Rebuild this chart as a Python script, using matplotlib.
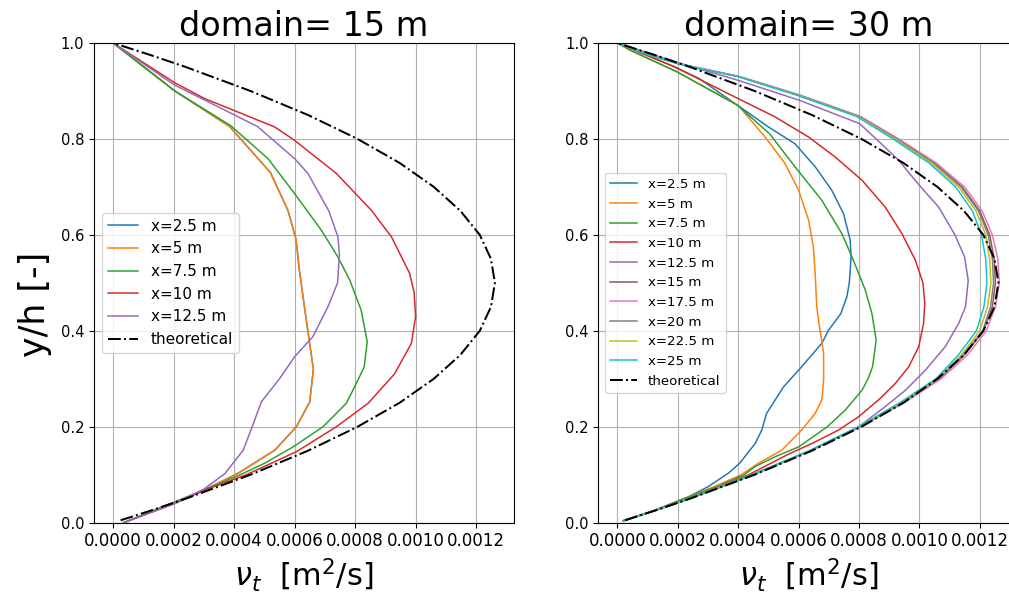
import matplotlib
matplotlib.use("Agg")
import matplotlib.pyplot as plt
import numpy as np

SCALE = 1e-4  # values below are in units of 1e-4 m^2/s

# ---------------- theoretical profile ----------------
theo_y = [0.005, 0.025, 0.05, 0.1, 0.15, 0.2, 0.25, 0.3, 0.35, 0.4, 0.45, 0.5,
          0.55, 0.6, 0.65, 0.7, 0.75, 0.8, 0.85, 0.9, 0.95, 0.975, 1.0]
theo_v = [0.25, 1.23, 2.40, 4.54, 6.44, 8.08, 9.47, 10.60, 11.48, 12.12, 12.49, 12.62,
          12.49, 12.12, 11.48, 10.60, 9.47, 8.08, 6.44, 4.54, 2.40, 1.23, 0.0]

# ---------------- domain = 15 m ----------------
L_labels = ["x=2.5 m", "x=5 m", "x=7.5 m", "x=10 m", "x=12.5 m"]

L_x2p5_y = [0.0, 0.042, 0.068, 0.103, 0.151, 0.2, 0.252, 0.32, 0.39, 0.47, 0.53, 0.59, 0.651, 0.73, 0.826, 0.9, 1.0]
L_x2p5_v = [0.35, 2.0, 3.0, 4.13, 5.34, 6.06, 6.5, 6.62, 6.46, 6.28, 6.15, 6.05, 5.78, 5.2, 3.85, 2.04, 0.0]

L_x5_y = [0.0, 0.042, 0.068, 0.103, 0.151, 0.2, 0.252, 0.32, 0.39, 0.47, 0.53, 0.59, 0.651, 0.73, 0.826, 0.9, 1.0]
L_x5_v = [0.35, 2.0, 3.0, 4.13, 5.34, 6.06, 6.5, 6.62, 6.46, 6.28, 6.15, 6.05, 5.78, 5.2, 3.85, 2.04, 0.0]

L_x7p5_y = [0.0, 0.042, 0.068, 0.1, 0.124, 0.158, 0.2, 0.249, 0.297, 0.325, 0.377, 0.443, 0.506, 0.554, 0.61, 0.686, 0.759, 0.828, 0.9, 1.0]
L_x7p5_v = [0.35, 2.0, 3.0, 4.2, 5.01, 5.95, 6.94, 7.71, 8.09, 8.3, 8.4, 8.2, 7.82, 7.43, 6.88, 6.0, 5.12, 3.88, 2.04, 0.0]

L_x10_y = [0.0, 0.04, 0.068, 0.1, 0.148, 0.2, 0.249, 0.31, 0.374, 0.43, 0.48, 0.52, 0.596, 0.651, 0.728, 0.797, 0.825, 0.856, 0.884, 0.917, 1.0]
L_x10_v = [0.35, 2.04, 3.03, 4.4, 6.06, 7.38, 8.43, 9.3, 9.86, 10.0, 9.95, 9.8, 9.2, 8.54, 7.38, 6.0, 5.34, 4.13, 3.03, 2.04, 0.0]

L_x12p5_y = [0.0, 0.04, 0.07, 0.102, 0.151, 0.214, 0.252, 0.3, 0.346, 0.3875, 0.45, 0.5, 0.56, 0.596, 0.65, 0.728, 0.759, 0.826, 0.881, 0.912, 1.0]
L_x12p5_v = [0.35, 2.04, 3.0, 3.69, 4.3, 4.68, 4.9, 5.5, 6.0, 6.6, 7.1, 7.42, 7.48, 7.43, 7.13, 6.44, 6.0, 4.77, 3.03, 2.04, 0.0]

# ---------------- domain = 30 m ----------------
R_labels = ["x=2.5 m", "x=5 m", "x=7.5 m", "x=10 m", "x=12.5 m",
            "x=15 m", "x=17.5 m", "x=20 m", "x=22.5 m", "x=25 m"]

R_x2p5_y = [0.004, 0.025, 0.054, 0.075, 0.103, 0.124, 0.165, 0.193, 0.228, 0.283, 0.325, 0.374, 0.401,
            0.436, 0.471, 0.5, 0.554, 0.589, 0.644, 0.693, 0.742, 0.79, 0.825, 0.874, 0.926, 0.95, 1.0]
R_x2p5_v = [0.19, 1.2, 2.35, 3.0, 3.67, 4.05, 4.56, 4.78, 4.94, 5.5, 6.1, 6.77, 6.99,
            7.4, 7.6, 7.68, 7.74, 7.71, 7.49, 7.1, 6.55, 5.88, 5.0, 3.89, 2.7, 1.9, 0.0]

R_x5_y = [0.004, 0.025, 0.054, 0.075, 0.1, 0.124, 0.151, 0.193, 0.228, 0.256, 0.297, 0.353, 0.401, 0.45,
          0.519, 0.575, 0.631, 0.693, 0.749, 0.804, 0.87, 0.94, 0.985, 1.0]
R_x5_v = [0.19, 1.2, 2.35, 3.2, 4.1, 4.67, 5.44, 6.1, 6.55, 6.77, 6.83, 6.83, 6.71, 6.6,
          6.55, 6.49, 6.33, 6.0, 5.55, 4.89, 4.0, 1.97, 0.42, 0.0]

R_x7p5_y = [0.004, 0.025, 0.054, 0.075, 0.1, 0.117, 0.1375, 0.158, 0.2, 0.235, 0.276, 0.3, 0.325, 0.38,
            0.436, 0.485, 0.554, 0.603, 0.672, 0.742, 0.81, 0.87, 0.94, 0.985, 1.0]
R_x7p5_v = [0.19, 1.2, 2.38, 3.3, 4.2, 4.56, 5.22, 6.0, 6.95, 7.55, 8.1, 8.3, 8.45, 8.57,
            8.43, 8.21, 7.77, 7.43, 6.77, 5.88, 5.05, 3.98, 1.97, 0.42, 0.0]

R_x10_y = [0.004, 0.025, 0.05, 0.1, 0.144, 0.165, 0.193, 0.221, 0.256, 0.29, 0.325, 0.367, 0.415, 0.457,
           0.5, 0.547, 0.603, 0.658, 0.714, 0.7625, 0.804, 0.846, 0.8875, 0.95, 1.0]
R_x10_v = [0.19, 1.2, 2.35, 4.35, 5.7, 6.44, 7.32, 7.99, 8.65, 9.2, 9.65, 9.98, 10.14, 10.18,
           10.12, 9.87, 9.42, 8.87, 8.1, 7.21, 6.33, 5.22, 3.89, 1.9, 0.0]

R_x12p5_y = [0.004, 0.025, 0.05, 0.1, 0.15, 0.2, 0.242, 0.276, 0.318, 0.367, 0.415, 0.45, 0.505, 0.554,
             0.6, 0.658, 0.707, 0.756, 0.8, 0.832, 0.881, 0.922, 0.96, 1.0]
R_x12p5_v = [0.19, 1.22, 2.37, 4.48, 6.38, 7.99, 8.87, 9.54, 10.2, 10.86, 11.3, 11.53, 11.62, 11.5,
             11.18, 10.64, 9.95, 9.31, 8.57, 8.02, 6.01, 4.01, 1.95, 0.0]

# downstream profiles share the same sampling heights
R_far_y = [0.004, 0.025, 0.05, 0.1, 0.15, 0.2, 0.25, 0.3, 0.35, 0.4, 0.45, 0.5, 0.55, 0.6,
           0.65, 0.7, 0.75, 0.8, 0.847, 0.891, 0.93, 0.957, 0.975, 1.0]
R_x15_v = [0.19, 1.22, 2.38, 4.49, 6.39, 8.03, 9.45, 10.66, 11.5, 12.13, 12.42, 12.52, 12.48, 12.33,
           12.0, 11.42, 10.5, 9.28, 8.02, 6.04, 4.03, 2.01, 1.05, 0.0]
R_x17p5_v = [0.19, 1.23, 2.39, 4.5, 6.41, 8.06, 9.5, 10.72, 11.6, 12.22, 12.52, 12.65, 12.6, 12.42,
             12.08, 11.5, 10.56, 9.32, 8.05, 6.06, 4.05, 2.02, 1.05, 0.0]
R_x20_v = [0.19, 1.22, 2.37, 4.48, 6.38, 8.02, 9.43, 10.63, 11.45, 12.1, 12.36, 12.46, 12.42, 12.28,
           11.96, 11.38, 10.46, 9.25, 8.0, 6.02, 4.02, 2.01, 1.05, 0.0]
R_x22p5_v = [0.19, 1.22, 2.37, 4.47, 6.37, 8.0, 9.4, 10.6, 11.4, 12.0, 12.26, 12.37, 12.33, 12.2,
             11.88, 11.3, 10.4, 9.2, 7.97, 5.99, 4.0, 2.0, 1.05, 0.0]
R_x25_v = [0.19, 1.22, 2.36, 4.45, 6.35, 7.98, 9.35, 10.55, 11.3, 11.89, 12.14, 12.24, 12.2, 12.06,
           11.76, 11.2, 10.32, 9.13, 7.92, 5.95, 3.98, 2.0, 1.05, 0.0]

titles = ["domain= 15 m", "domain= 30 m"]

L_series = [(L_x2p5_v, L_x2p5_y), (L_x5_v, L_x5_y), (L_x7p5_v, L_x7p5_y),
            (L_x10_v, L_x10_y), (L_x12p5_v, L_x12p5_y)]
R_series = [(R_x2p5_v, R_x2p5_y), (R_x5_v, R_x5_y), (R_x7p5_v, R_x7p5_y),
            (R_x10_v, R_x10_y), (R_x12p5_v, R_x12p5_y),
            (R_x15_v, R_far_y), (R_x17p5_v, R_far_y), (R_x20_v, R_far_y),
            (R_x22p5_v, R_far_y), (R_x25_v, R_far_y)]

W, H = 1009, 595
fig = plt.figure(figsize=(W / 100, H / 100), dpi=100)
bottom = (H - 522.7) / H
height = 479.7 / H
ax1 = fig.add_axes([94 / W, bottom, 420 / W, height])
ax2 = fig.add_axes([598.4 / W, bottom, 420 / W, height])

LW = 1.08
TLW = 1.44

for ax, series, labels, title, lfs in [(ax1, L_series, L_labels, titles[0], 11),
                                        (ax2, R_series, R_labels, titles[1], 9.6)]:
    for (v, y), lab in zip(series, labels):
        ax.plot(np.array(v) * SCALE, y, lw=LW, label=lab)
    ax.plot(np.array(theo_v) * SCALE, theo_y, 'k-.', lw=TLW, label="theoretical")
    ax.set_ylim(0, 1)
    ax.grid(True)
    ax.set_title(title, fontsize=24, pad=5)
    ax.set_xlabel(r'$\nu_t$  [m$^2$/s]', fontsize=22)
    ax.tick_params(axis='x', labelsize=12)
    ax.tick_params(axis='y', labelsize=10.6)
    ax.legend(loc='center left', fontsize=lfs)

ax1.set_ylabel('y/h [-]', fontsize=25)
ax1.yaxis.set_label_coords(-0.1, 0.455)

fig.savefig("out.png", dpi=100)
